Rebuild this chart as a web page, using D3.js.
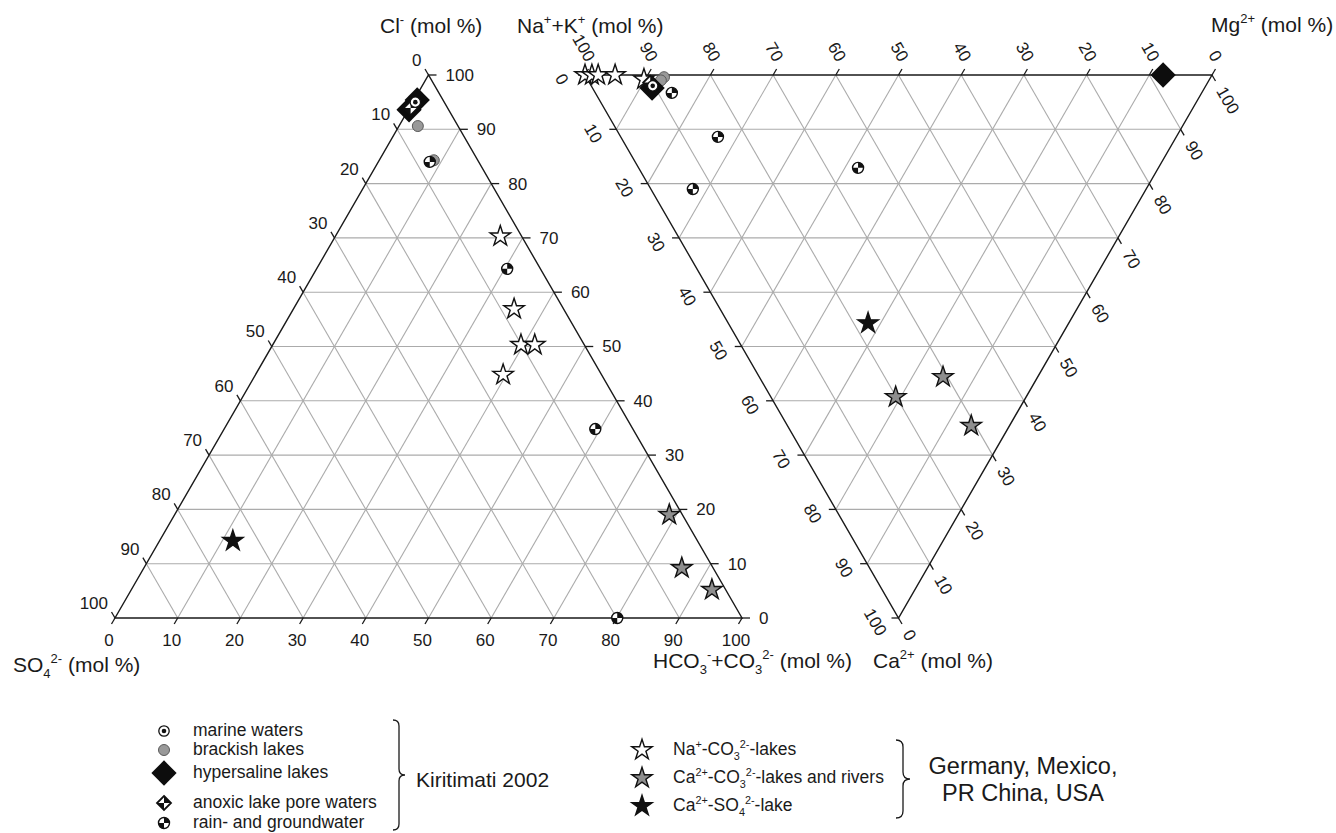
<!DOCTYPE html>
<html><head><meta charset="utf-8">
<script src="https://cdn.jsdelivr.net/npm/d3@7"></script>
<style>
body{margin:0;background:#fff}
svg{display:block}
text{font-family:"Liberation Sans",Arial,Helvetica,sans-serif;fill:#1a1a1a}
</style>
</head><body>
<svg id="chart" width="1336" height="833"></svg>
<script>
// ---------------- DATA ----------------
const tickValues = [0,10,20,30,40,50,60,70,80,90,100];

// Anion triangle: [HCO3+CO3 %, Cl %]  (SO4 = 100 - both)
const marineAnion    = [[0.4, 95.0]];
const brackishAnion  = [[3.0, 90.6], [8.7, 84.3]];
const hyperAnion     = [[0.1, 93.6], [0.5, 95.4]];
const anoxicAnion    = [[0.2, 93.9]];
const rainAnion      = [[8.2, 84.0], [30.4, 64.3], [59.2, 34.8], [80.1, 0.0]];
const naCO3Anion     = [[26.3, 70.3], [35.2, 56.9], [39.6, 50.3], [41.8, 50.3], [39.5, 44.8]];
const caCO3Anion     = [[78.9, 19.0], [85.8, 9.2], [92.6, 5.2]];
const caSO4Anion     = [[11.7, 14.2]];

// Cation triangle: [Mg %, Ca %]  (Na+K = 100 - both)
const marineCation   = [[9.8, 2.0]];
const brackishCation = [[12.4, 0.4], [11.6, 1.0]];
const hyperCation    = [[9.5, 2.4], [92.2, 0.0]];
const anoxicCation   = [[9.7, 1.4]];
const rainCation     = [[12.2, 3.3], [15.5, 11.4], [6.7, 21.0], [35.0, 17.1]];
const naCO3Cation    = [[0.0, 0.0], [1.1, 0.0], [2.1, 0.0], [4.8, 0.0], [9.0, 0.8]];
const caCO3Cation    = [[29.3, 55.6], [19.9, 59.3], [29.3, 64.6]];
const caSO4Cation    = [[22.3, 45.7]];

const legendLeftLabels  = ["marine waters", "brackish lakes", "hypersaline lakes", "anoxic lake pore waters", "rain- and groundwater"];
const legendLeftTypes   = ["marine", "brackish", "hyper", "anoxic", "rain"];
const legendRightTypes  = ["naStar", "caStar", "caSO4"];
const legendRightLabels = [
  [["Na",""],["+","sup"],["-CO",""],["3","sub"],["2-","sup"],["-lakes",""]],
  [["Ca",""],["2+","sup"],["-CO",""],["3","sub"],["2-","sup"],["-lakes and rivers",""]],
  [["Ca",""],["2+","sup"],["-SO",""],["4","sub"],["2-","sup"],["-lake",""]]
];
const groupLeftLabel  = ["Kiritimati 2002"];
const groupRightLabel = ["Germany, Mexico,", "PR China, USA"];

// ---------------- SETUP ----------------
const svg = d3.select("#chart");
const xL = d3.scaleLinear().domain([0,100]).range([115,742]);
const yL = d3.scaleLinear().domain([0,100]).range([618,75]);
const xR = d3.scaleLinear().domain([0,100]).range([585,1212]);
const yR = d3.scaleLinear().domain([0,100]).range([75,618]);
const projL = (p,q) => [xL(p + q/2), yL(q)];
const projR = (p,q) => [xR(p + q/2), yR(q)];

function rich(g, x, y, parts, size, anchor) {
  const t = g.append("text").attr("x", x).attr("y", y)
    .attr("font-size", size).attr("text-anchor", anchor || "start");
  let cur = 0;
  parts.forEach(([s, m]) => {
    const target = m === "sup" ? -0.42*size : m === "sub" ? 0.28*size : 0;
    const ts = t.append("tspan").attr("dy", target - cur).text(s);
    if (m) ts.attr("font-size", size*0.62);
    cur = target;
  });
  return t;
}

function grid(g, proj) {
  const lines = [];
  for (let v = 10; v < 100; v += 10) {
    lines.push([proj(v,0), proj(v,100-v)]);
    lines.push([proj(0,v), proj(100-v,v)]);
    lines.push([proj(100-v,0), proj(0,100-v)]);
  }
  g.selectAll(null).data(lines).enter().append("line")
    .attr("x1", d=>d[0][0]).attr("y1", d=>d[0][1])
    .attr("x2", d=>d[1][0]).attr("y2", d=>d[1][1])
    .attr("stroke", "#ababab").attr("stroke-width", 1.1);
  const tri = [proj(0,0), proj(100,0), proj(0,100)];
  g.append("polygon").attr("points", tri.map(p=>p.join(",")).join(" "))
    .attr("fill", "none").attr("stroke", "#1a1a1a").attr("stroke-width", 1.4);
}

function ticks(g, pts, dx, dy) {
  g.selectAll(null).data(pts).enter().append("line")
    .attr("x1", d=>d[0]).attr("y1", d=>d[1])
    .attr("x2", d=>d[0]+dx).attr("y2", d=>d[1]+dy)
    .attr("stroke", "#1a1a1a").attr("stroke-width", 1.3);
}

const TF = 17;
const gL = svg.append("g"), gR = svg.append("g");
grid(gL, projL); grid(gR, projR);

// Left triangle ticks
ticks(gL, tickValues.map(v=>projL(v,0)), -3.5, 6);
gL.selectAll(null).data(tickValues).enter().append("text")
  .attr("x", v=>projL(v,0)[0]-6).attr("y", v=>projL(v,0)[1]+22).attr("dy","0.35em")
  .attr("text-anchor","middle").attr("font-size",TF).text(v=>v);
ticks(gL, tickValues.map(v=>projL(100-v,v)), 8, 0);
gL.selectAll(null).data(tickValues).enter().append("text")
  .attr("x", v=>projL(100-v,v)[0]+17).attr("y", v=>projL(100-v,v)[1]).attr("dy","0.35em")
  .attr("text-anchor","start").attr("font-size",TF).text(v=>v);
ticks(gL, tickValues.map(v=>projL(0,100-v)), -3.5, -6);
gL.selectAll(null).data(tickValues).enter().append("text")
  .attr("x", v=>projL(0,100-v)[0]-7).attr("y", v=>projL(0,100-v)[1]-15).attr("dy","0.35em")
  .attr("text-anchor","end").attr("font-size",TF).text(v=>v);

// Right triangle ticks
ticks(gR, tickValues.map(v=>projR(100-v,0)), 3.5, -6);
gR.selectAll(null).data(tickValues).enter().append("text")
  .attr("transform", v=>{const p=projR(100-v,0); return `translate(${p[0]+6},${p[1]-15}) rotate(60)`;})
  .attr("dy","0.35em").attr("text-anchor","end").attr("font-size",TF).text(v=>v);
ticks(gR, tickValues.map(v=>projR(0,v)), -7, 0);
gR.selectAll(null).data(tickValues).enter().append("text")
  .attr("transform", v=>{const p=projR(0,v); return `translate(${p[0]-23},${p[1]+4}) rotate(60)`;})
  .attr("dy","0.35em").attr("text-anchor","middle").attr("font-size",TF).text(v=>v);
ticks(gR, tickValues.map(v=>projR(v,100-v)), 3.5, 6);
gR.selectAll(null).data(tickValues).enter().append("text")
  .attr("transform", v=>{const p=projR(v,100-v); return `translate(${p[0]+9},${p[1]+13}) rotate(60)`;})
  .attr("dy","0.35em").attr("text-anchor","start").attr("font-size",TF).text(v=>v);

// Axis titles
const AF = 21;
rich(svg, 380, 33, [["Cl",""],["-","sup"],[" (mol %)",""]], AF);
rich(svg, 517, 33, [["Na",""],["+","sup"],["+K",""],["+","sup"],[" (mol %)",""]], AF);
rich(svg, 1211, 32, [["Mg",""],["2+","sup"],[" (mol %)",""]], AF);
rich(svg, 13, 672, [["SO",""],["4","sub"],["2-","sup"],[" (mol %)",""]], AF);
rich(svg, 653, 668, [["HCO",""],["3","sub"],["-","sup"],["+CO",""],["3","sub"],["2-","sup"],[" (mol %)",""]], AF);
rich(svg, 873, 668, [["Ca",""],["2+","sup"],[" (mol %)",""]], AF);

// ---------------- SYMBOLS ----------------
const starPath = d3.symbol().type(d3.symbolStar).size(130)();
const diamondPath = s => d3.symbol().type(d3.symbolSquare).size(s)();
function symbol(g, type, x, y) {
  const s = g.append("g").attr("transform", `translate(${x},${y})`);
  if (type === "naStar" || type === "caStar" || type === "caSO4") {
    s.append("path").attr("d", starPath)
      .attr("fill", type==="naStar" ? "#fff" : type==="caStar" ? "#8e8e8e" : "#111")
      .attr("stroke", "#111").attr("stroke-width", 1.4).attr("stroke-linejoin","miter");
  } else if (type === "hyper") {
    s.append("path").attr("d", diamondPath(320)).attr("transform","rotate(45)").attr("fill","#0d0d0d");
  } else if (type === "marine") {
    s.append("circle").attr("r", 5.2).attr("fill","#fff").attr("stroke","#111").attr("stroke-width",1.3);
    s.append("circle").attr("r", 2.3).attr("fill","#111");
  } else if (type === "brackish") {
    s.append("circle").attr("r", 5.5).attr("fill","#999").attr("stroke","#5a5a5a").attr("stroke-width",1);
  } else if (type === "rain") {
    const r = 5.5;
    s.append("circle").attr("r", r).attr("fill","#fff").attr("stroke","#111").attr("stroke-width",1.4);
    s.append("path").attr("d", `M0,0L0,${-r}A${r},${r} 0 0 1 ${r},0Z M0,0L0,${r}A${r},${r} 0 0 1 ${-r},0Z`).attr("fill","#111");
  } else if (type === "anoxic") {
    const d = 7;
    s.append("path").attr("d", `M0,${-d}L${d},0L0,${d}L${-d},0Z`).attr("fill","#fff").attr("stroke","#111").attr("stroke-width",1.8).attr("stroke-linejoin","miter");
    s.append("path").attr("d", `M0,0L0,${-d}L${d},0Z M0,0L0,${d}L${-d},0Z`).attr("fill","#111");
  }
}

function plot(g, proj, arr, type) {
  arr.forEach(d => { const p = proj(d[0], d[1]); symbol(g, type, p[0], p[1]); });
}
const order = [
  [naCO3Anion, naCO3Cation, "naStar"],
  [caCO3Anion, caCO3Cation, "caStar"],
  [caSO4Anion, caSO4Cation, "caSO4"],
  [brackishAnion, brackishCation, "brackish"],
  [hyperAnion, hyperCation, "hyper"],
  [rainAnion, rainCation, "rain"],
  [anoxicAnion, anoxicCation, "anoxic"],
  [marineAnion, marineCation, "marine"]
];
const pL = svg.append("g"), pR = svg.append("g");
order.forEach(([a, c, t]) => { plot(pL, projL, a, t); plot(pR, projR, c, t); });

// ---------------- LEGEND ----------------
const LF = 17.5;
const legL = svg.append("g");
const legLY = [731, 750, 773, 803, 823];
const legLBase = [736, 755, 778, 808, 828];
legendLeftTypes.forEach((t,i) => symbol(legL, t, 164, legLY[i]));
legendLeftLabels.forEach((s,i) => legL.append("text").attr("x",193).attr("y",legLBase[i]).attr("font-size",LF).text(s));

function brace(g, xa, w, y0, y1) {
  const ym = (y0+y1)/2, h = w/2;
  g.append("path").attr("d",
    `M${xa},${y0} Q${xa+h},${y0} ${xa+h},${y0+h} L${xa+h},${ym-h} Q${xa+h},${ym} ${xa+w},${ym} ` +
    `Q${xa+h},${ym} ${xa+h},${ym+h} L${xa+h},${y1-h} Q${xa+h},${y1} ${xa},${y1}`)
    .attr("fill","none").attr("stroke","#1a1a1a").attr("stroke-width",1.3);
}
brace(legL, 393, 12, 720, 830);
legL.append("text").attr("x",416).attr("y",787).attr("font-size",21).text(groupLeftLabel[0]);

const legR = svg.append("g");
const legRY = [750, 778, 806];
const legRBase = [755, 783, 811];
legendRightTypes.forEach((t,i) => symbol(legR, t, 642, legRY[i]));
legendRightLabels.forEach((parts,i) => rich(legR, 673, legRBase[i], parts, LF));
brace(legR, 896, 14, 740, 818);
legR.append("text").attr("x",1023).attr("y",774).attr("text-anchor","middle").attr("font-size",23.5).text(groupRightLabel[0]);
legR.append("text").attr("x",1023).attr("y",801).attr("text-anchor","middle").attr("font-size",23.5).text(groupRightLabel[1]);
</script>
</body></html>
